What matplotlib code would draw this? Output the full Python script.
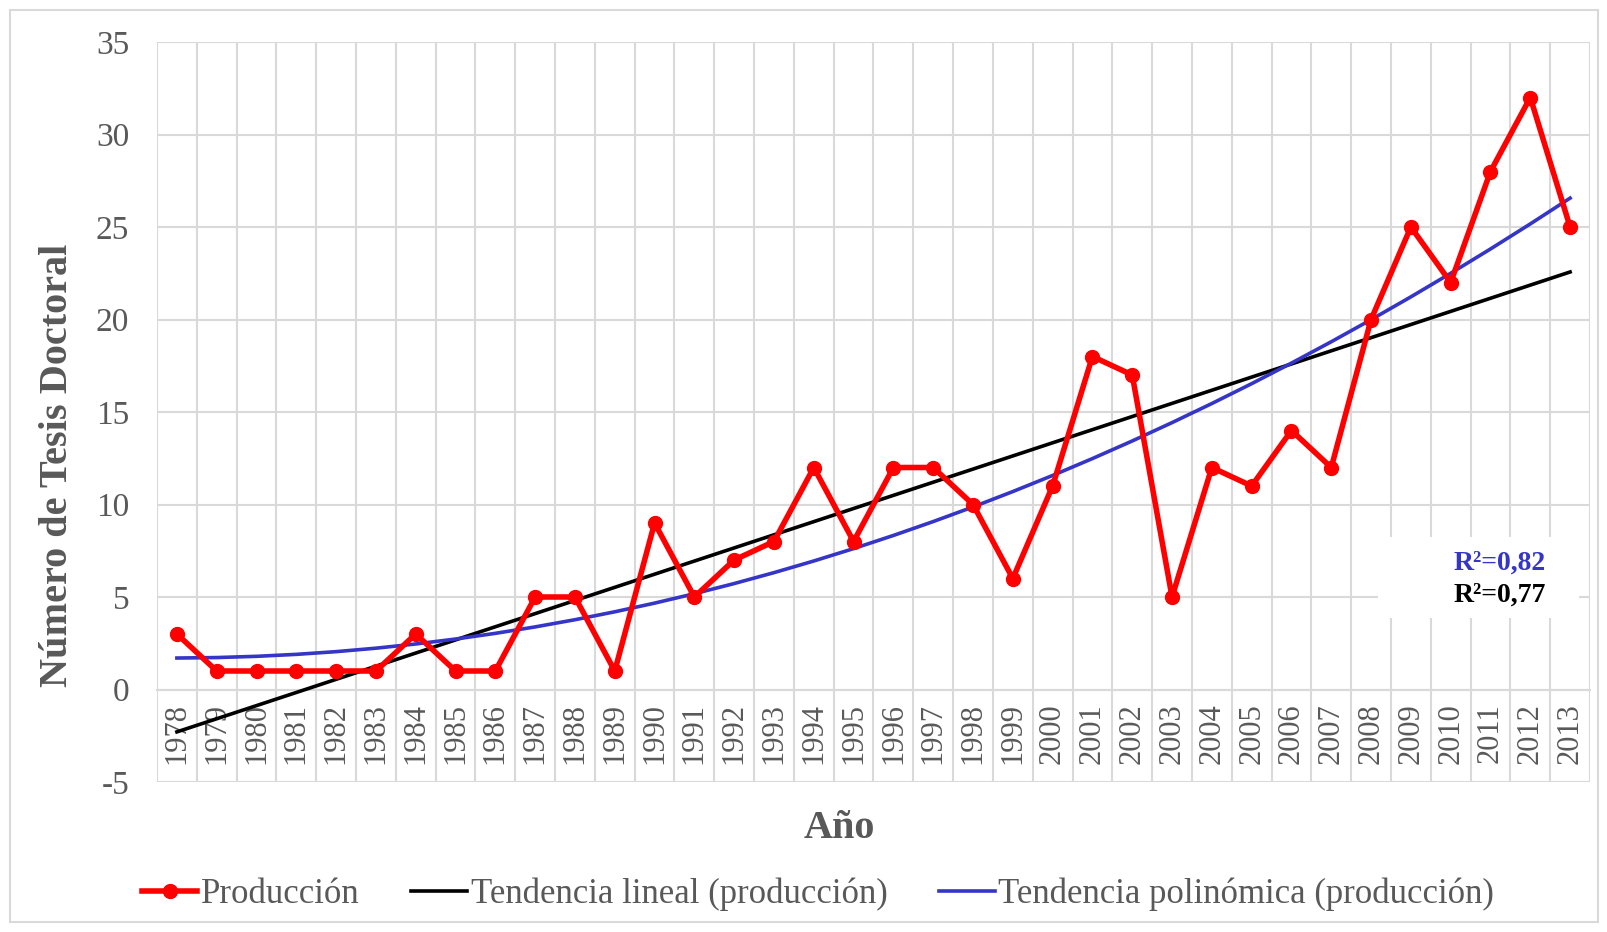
import numpy as np
import matplotlib
matplotlib.use("Agg")
import matplotlib.pyplot as plt
from matplotlib.ticker import FixedLocator
from matplotlib.lines import Line2D

years = [str(y) for y in range(1978, 2014)]
produccion = [3, 1, 1, 1, 1, 1, 3, 1, 1, 5, 5, 1, 9, 5, 7, 8, 12, 8, 12, 12,
              10, 6, 11, 18, 17, 5, 12, 11, 14, 12, 20, 25, 22, 28, 32, 25]
y_ticks = list(range(-5, 36, 5))
r2_poly = "R²=0,82"
r2_lin = "R²=0,77"

GRAY = "#595959"
GRID = "#D9D9D9"
BLUE = "#3535C8"

plt.rcParams['font.family'] = ['Liberation Serif', 'DejaVu Serif']

x = np.arange(len(years))
y = np.array(produccion, dtype=float)
# Excel-style trend lines (x = 1..n)
lin = np.polyval(np.polyfit(x + 1, y, 1), x + 1)
poly = np.polyval(np.polyfit(x + 1, y, 2), x + 1)

fig = plt.figure(figsize=(16.08, 9.32), dpi=100)
ax = fig.add_axes([157/1608, 1 - 782/932, (1590-157)/1608, (782-42)/932])

# category axis sits at y=0 (set before ticks: set_position resets them)
for s in ["top", "right", "left"]:
    ax.spines[s].set_visible(False)
ax.spines["bottom"].set_position(("data", 0))
ax.spines["bottom"].set_color(GRID)
ax.spines["bottom"].set_linewidth(1.5)

ax.plot(x, lin, color="black", lw=2.6, zorder=3)
ax.plot(x, poly, color=BLUE, lw=2.6, zorder=3)
ax.plot(x, y, color="#FF0000", lw=4, marker="o", markersize=10, zorder=4)

ax.set_xlim(-0.5, len(years) - 0.5)
ax.set_ylim(-5, 35)
ax.set_xticks(x)
ax.set_xticklabels(years, rotation=90, fontsize=22, color=GRAY)
ax.xaxis.set_minor_locator(FixedLocator(np.arange(-0.5, len(years), 1)))
ax.tick_params(axis="x", which="both", length=0, pad=10)
ax.set_yticks(y_ticks)
ax.set_yticklabels([str(v) for v in y_ticks])
ax.tick_params(axis="y", length=0, pad=20, labelsize=24, labelcolor=GRAY)

ax.grid(axis="y", which="major", color=GRID, lw=1.5)
ax.grid(axis="x", which="minor", color=GRID, lw=1.5)
ax.set_axisbelow(True)

# R^2 labels on a white patch
ax.add_patch(plt.Rectangle((0.852, 0.222), 0.14, 0.109, transform=ax.transAxes,
                           facecolor="white", edgecolor="none", zorder=2))
ax.text(0.969, 0.296, r2_poly, transform=ax.transAxes, ha="right", va="center",
        fontsize=20, fontweight="bold", color=BLUE, zorder=6)
ax.text(0.969, 0.253, r2_lin, transform=ax.transAxes, ha="right", va="center",
        fontsize=20, fontweight="bold", color="black", zorder=6)

fig.text(58/1608, 1 - 465/932, "Número de Tesis Doctoral", rotation=90, ha="center",
         va="center", fontsize=29, fontweight="bold", color=GRAY)
fig.text(839/1608, 1 - 829/932, "Año", ha="center", va="center",
         fontsize=29, fontweight="bold", color=GRAY)

handles = [Line2D([], [], color="#FF0000", lw=4, marker="o", markersize=10),
           Line2D([], [], color="black", lw=2.6),
           Line2D([], [], color=BLUE, lw=2.6)]
labels = ["Producción", "Tendencia lineal (producción)", "Tendencia polinómica (producción)"]
leg = fig.legend(handles, labels, loc="center", bbox_to_anchor=(818/1608, 1 - 894/932),
                 ncol=3, frameon=False, fontsize=25, handlelength=1.6,
                 handletextpad=0.1, columnspacing=1.5)
for t in leg.get_texts():
    t.set_color(GRAY)

# outer chart border
fig.patches.append(plt.Rectangle((10/1608, 10/932), 1588/1608, 912/932, transform=fig.transFigure,
                                 fill=False, edgecolor=GRID, lw=1.5))

fig.savefig("out.png", dpi=100)
